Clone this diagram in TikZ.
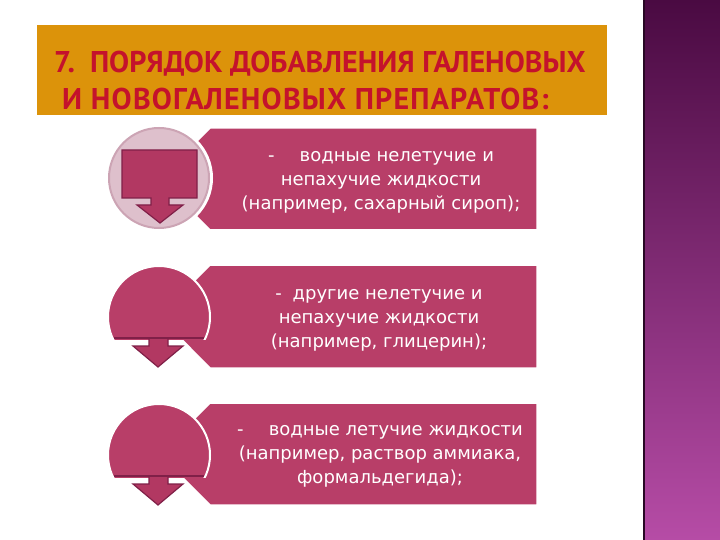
\documentclass[tikz,border=0pt]{standalone}
\usepackage{fontspec}
\setmainfont{DejaVu Sans}
\newfontfamily\titlefont[FakeStretch=1.0]{PT Sans}
\usetikzlibrary{positioning,backgrounds}
\definecolor{titlebg}{RGB}{220,147,10}
\definecolor{titlered}{RGB}{196,18,44}
\definecolor{rowpink}{RGB}{184,62,104}
\definecolor{calloutpink}{RGB}{178,56,98}
\definecolor{calloutedge}{RGB}{128,32,72}
\definecolor{circlelight}{RGB}{222,192,204}
\definecolor{circlering}{RGB}{204,164,180}
\definecolor{bartop}{RGB}{74,10,66}
\definecolor{barbot}{RGB}{182,76,166}
\definecolor{bardark}{RGB}{40,8,36}
\tikzstyle{ttl}=[text=titlered, anchor=west, inner sep=0pt, font=\titlefont\bfseries\fontsize{30}{30}\selectfont]
\tikzstyle{item}=[text=white, align=center, inner sep=0pt, font=\fontsize{18}{24}\selectfont]
\tikzstyle{bar}=[fill=rowpink, draw=white, line width=1.5pt]
\tikzstyle{callout}=[fill=calloutpink, draw=calloutedge, line width=1.2pt, line join=miter]
% list bar with its hidden point under the circle: top, bottom
\newcommand{\rowbar}[2]{
	\draw[bar] (210,#1) -- (537,#1) -- (537,#2) -- (210,#2) -- (159,{(#1+#2)/2}) -- cycle;
}
% dome and arrow of rows two and three: centre y
\newcommand{\dome}[1]{
	\begin{scope}
		\clip (100,#1-60) rectangle (220,#1+22);
		\fill[rowpink, draw=white, line width=2pt] (159,#1) circle (51pt);
	\end{scope}
	\draw[calloutedge, line width=2pt] (114,#1+21) -- (204,#1+21);
	\draw[callout] (149,#1+22) -- (149,#1+29) -- (133,#1+29) -- (158,#1+50) -- (183,#1+29) -- (168,#1+29) -- (168,#1+22);
}

\begin{document}
\begin{tikzpicture}[x=1pt, y=-1pt]
      \useasboundingbox (0,0) rectangle (720,540);
      % side bar
      \shade[top color=bartop, bottom color=barbot] (643,0) rectangle (720,540);
      \draw[bardark, line width=2pt] (644,0) -- (644,540);
      % title
      \fill[titlebg] (37,25) rectangle (607,115);
      \node[ttl] (title1) at (54,64) {7.\hspace{0.5em}ПОРЯДОК ДОБАВЛЕНИЯ ГАЛЕНОВЫХ};
      \node[ttl] (title2) at (62,99) {\addfontfeature{LetterSpace=4}И НОВОГАЛЕНОВЫХ ПРЕПАРАТОВ:};
      %
      \rowbar{128}{230}
      \rowbar{265}{368}
      \rowbar{403}{505}
      % first circle
      \fill[white] (159,178) circle (54pt);
      \draw[fill=circlelight, draw=circlering, line width=2pt] (159,178) circle (50pt);
      \draw[callout] (122,150) -- (197,150) -- (197,198) -- (169,198) -- (169,205) -- (183,205)
        -- (160,223) -- (137,205) -- (151,205) -- (151,198) -- (122,198) -- cycle;
      %
      \dome{317}
      \dome{455}
      %
      \node[item] (item1) at (381,182) {-\hspace{1.4em}водные нелетучие и\\непахучие жидкости\\(например, сахарный сироп);};
      \node[item] (item2) at (379,320) {-\hspace{0.6em}другие нелетучие и\\непахучие жидкости\\(например, глицерин);};
      \node[item] (item3) at (380,456) {-\hspace{1.4em}водные летучие жидкости\\(например, раствор аммиака,\\формальдегида);};
\end{tikzpicture}
\end{document}
